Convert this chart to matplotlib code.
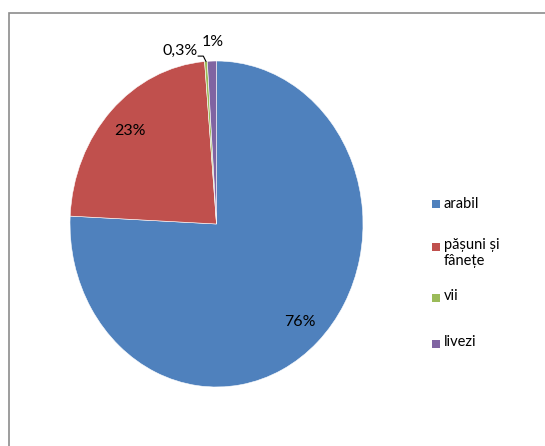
import numpy as np
import matplotlib
matplotlib.use("Agg")
import matplotlib.pyplot as plt
from matplotlib.patches import Rectangle

plt.rcParams['font.family'] = ['Lato', 'DejaVu Sans']

categories = ["arabil", "pășuni și\nfânețe", "vii", "livezi"]
shares = [76, 23, 0.3, 1]
colors = ["#4F81BD", "#C0504D", "#9BBB59", "#8064A2"]

W, H = 545, 446
fig = plt.figure(figsize=(W / 100, H / 100), dpi=100)

# outer chart frame
frame = Rectangle((8.5 / W, -0.05), 1.2, (H - 12.5) / H + 0.05,
                  transform=fig.transFigure, fill=False,
                  edgecolor="#8c8c8c", linewidth=1.2)
fig.patches.append(frame)

# pie area (slightly taller than wide)
left, right, top, bottom = 70, 363, 61, 387
ax = fig.add_axes([left / W, (H - bottom) / H, (right - left) / W, (bottom - top) / H])
wedges, _ = ax.pie(shares, colors=colors, startangle=90, counterclock=False,
                   radius=1.0, wedgeprops=dict(edgecolor="white", linewidth=0.4))
ax.set_aspect("auto")
ax.set_xlim(-1, 1)
ax.set_ylim(-1, 1)
ax.axis("off")


def fmt(v):
    return f"{v:g}".replace(".", ",") + "%"


def mid_dir(w):
    a = np.deg2rad((w.theta1 + w.theta2) / 2)
    return np.cos(a), np.sin(a)


# large slices: labels inside
for w, v, r in zip(wedges[:2], shares[:2], [0.83, 0.82]):
    dx, dy = mid_dir(w)
    ax.text(r * dx, r * dy, fmt(v), ha="center", va="center",
            fontsize=11.5, color="black")

# small slices: labels outside
gx, gy = mid_dir(wedges[2])
ax.text(-0.13, 1.06, fmt(shares[2]), ha="right", va="center",
        fontsize=11.5, color="black", clip_on=False)
ax.plot([-0.125, gx - 0.018, gx], [1.03, 1.03, gy], color="black",
        linewidth=0.8, clip_on=False)

px, py = mid_dir(wedges[3])
ax.text(px + 0.005, 1.115, fmt(shares[3]), ha="center", va="center",
        fontsize=11.5, color="black", clip_on=False)

# legend
legend_y = [204, 246, 297, 343]
for lab, col, y in zip(categories, colors, legend_y):
    fig.patches.append(Rectangle((432 / W, (H - y - 4.5) / H), 8 / W, 8 / H,
                                 transform=fig.transFigure, facecolor=col,
                                 edgecolor="none"))
    fig.text(444 / W, (H - y + 7.5) / H, lab, ha="left", va="top",
             fontsize=10.5, color="black", linespacing=1.1)

fig.savefig("out.png", dpi=100)
